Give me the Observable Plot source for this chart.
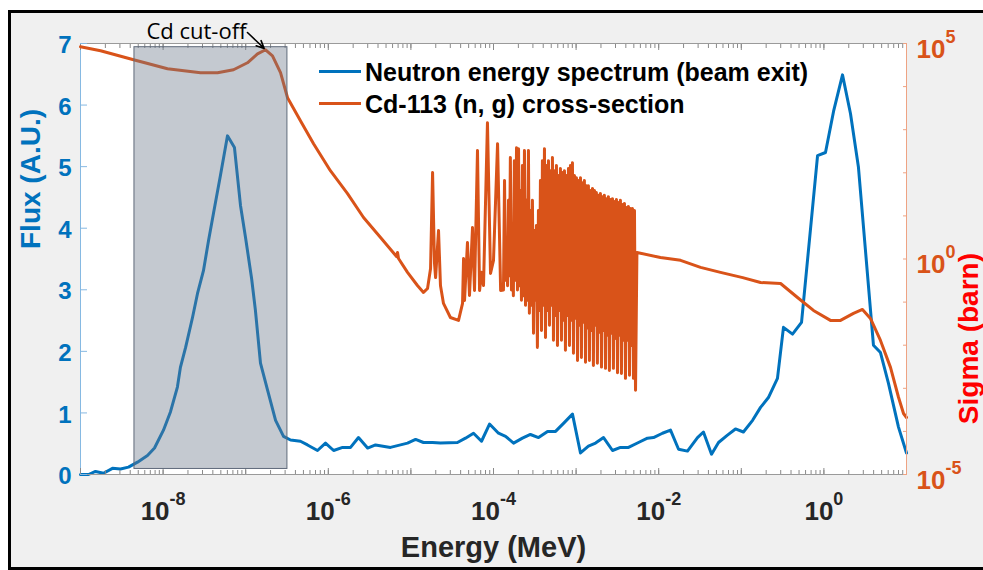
<!DOCTYPE html>
<html>
<head>
<meta charset="utf-8">
<script src="https://cdn.jsdelivr.net/npm/d3@7"></script>
<script src="https://cdn.jsdelivr.net/npm/@observablehq/plot@0.6"></script>
<style>
  html, body { margin: 0; padding: 0; background: #ffffff; }
  #page { position: relative; width: 983px; height: 570px; overflow: hidden;
          font-family: "Liberation Sans", Arial, Helvetica, sans-serif; }
  #panel { position: absolute; left: 8px; top: 10px; width: 990px; height: 560px;
           box-sizing: border-box; border: 3px solid #000; background: #f0f0f0; }
  .layer { position: absolute; left: 0; top: 0; }
  .layer svg { overflow: visible; }
  .key-line { position: absolute; height: 3px; width: 42px; left: 319px; }
  .key-text { position: absolute; left: 365px; font-size: 25px; font-weight: bold;
              line-height: 30px; white-space: nowrap; color: #000; }
</style>
</head>
<body>
<div id="page">
  <div id="panel"></div>
  <div class="layer" id="flux-layer"></div>
  <div class="layer" id="xs-layer"></div>
  <div class="layer" id="shade-layer"></div>
  <div class="layer" id="note-layer"></div>
  <div class="key-line" style="top:70.2px;background:#0072BD"></div>
  <div class="key-text" style="top:57px">Neutron energy spectrum (beam exit)</div>
  <div class="key-line" style="top:101.8px;background:#D95319"></div>
  <div class="key-text" style="top:88.6px">Cd-113 (n, g) cross-section</div>
</div>
<script>
// Neutron flux at the beam exit (MeV, arbitrary units)
const fluxEnergy = [
  1.0e-9, 1.25e-9, 1.52e-9, 1.9e-9, 2.44e-9, 3.05e-9, 3.81e-9, 4.9e-9, 6.47e-9, 7.87e-9,
  1.01e-8, 1.23e-8, 1.49e-8, 1.62e-8, 1.87e-8, 2.27e-8, 2.61e-8, 3.08e-8, 3.55e-8, 4.07e-8,
  4.95e-8, 6.02e-8, 7.31e-8, 8.65e-8, 9.95e-8, 1.18e-7, 1.31e-7, 1.51e-7, 1.84e-7, 2.3e-7,
  2.87e-7, 3.49e-7, 4.6e-7, 5.6e-7, 7.4e-7, 9.25e-7, 1.16e-6, 1.49e-6, 1.86e-6, 2.32e-6,
  2.99e-6, 3.73e-6, 5.66e-6, 9.1e-6, 1.14e-5, 1.42e-5, 1.83e-5, 2.28e-5, 3.66e-5, 4.58e-5,
  5.73e-5, 7.16e-5, 8.95e-5, 1.15e-4, 1.4e-4, 1.75e-4, 2.24e-4, 2.8e-4, 3.51e-4, 4.51e-4,
  5.64e-4, 7.04e-4, 9.04e-4, 1.13e-3, 1.41e-3, 1.72e-3, 2.15e-3, 2.76e-3, 3.45e-3, 4.31e-3,
  5.69e-3, 7.31e-3, 8.65e-3, 1.11e-2, 1.39e-2, 1.74e-2, 2.23e-2, 2.95e-2, 3.48e-2, 4.36e-2,
  5.3e-2, 6.8e-2, 8.5e-2, 0.106, 0.137, 0.171, 0.213, 0.274, 0.324, 0.417,
  0.536, 0.838, 1.045, 1.31, 1.68, 2.10, 2.62, 3.98, 4.84, 6.05,
  8.0, 10.0
];
const fluxValue = [
  0.00, 0.00, 0.05, 0.02, 0.10, 0.09, 0.12, 0.20, 0.31, 0.43,
  0.72, 1.02, 1.42, 1.74, 2.06, 2.55, 2.94, 3.31, 3.80, 4.24,
  4.86, 5.50, 5.31, 4.37, 3.85, 3.18, 2.67, 1.81, 1.37, 0.88,
  0.62, 0.56, 0.54, 0.48, 0.39, 0.51, 0.39, 0.44, 0.44, 0.60,
  0.43, 0.48, 0.44, 0.51, 0.57, 0.52, 0.52, 0.51, 0.52, 0.59,
  0.67, 0.54, 0.82, 0.67, 0.62, 0.51, 0.59, 0.65, 0.60, 0.70,
  0.70, 0.83, 0.98, 0.35, 0.46, 0.51, 0.60, 0.39, 0.44, 0.44,
  0.52, 0.59, 0.60, 0.67, 0.72, 0.41, 0.38, 0.60, 0.69, 0.33,
  0.52, 0.64, 0.74, 0.69, 0.88, 1.09, 1.25, 1.56, 2.39, 2.28,
  2.47, 5.18, 5.23, 5.90, 6.49, 5.86, 4.99, 2.10, 1.98, 1.48,
  0.77, 0.35
];

// Cd-113 (n, gamma) capture cross-section (MeV, barn)
const xsEnergy = [
  // 1/v region, thermal cut-off peak and first resonances
  1.0e-9, 1.75e-9, 4.39e-9, 1.13e-8, 2.84e-8, 4.56e-8, 7.12e-8, 1.05e-7, 1.39e-7, 1.74e-7,
  2.11e-7, 2.64e-7, 3.21e-7, 4.60e-7, 6.63e-7, 1.06e-6, 1.71e-6, 2.67e-6, 4.29e-6, 6.70e-6,
  6.89e-6, 7.08e-6, 9.10e-6, 1.20e-5, 1.42e-5, 1.59e-5, 1.73e-5, 1.83e-5, 1.93e-5, 1.99e-5,
  2.16e-5, 2.28e-5, 2.48e-5, 3.01e-5, 3.77e-5, 4.22e-5, 4.34e-5, 4.46e-5, 4.84e-5, 5.12e-5,
  5.57e-5, 5.89e-5, 6.40e-5, 6.78e-5, 7.16e-5, 7.57e-5, 8.45e-5, 9.20e-5, 1.00e-4, 1.12e-4,
  1.22e-4,
  // resolved resonance region
  1.32e-4, 1.36e-4, 1.40e-4, 1.44e-4, 1.48e-4, 1.52e-4, 1.56e-4, 1.60e-4, 1.65e-4, 1.70e-4,
  1.74e-4, 1.79e-4, 1.84e-4, 1.90e-4, 1.95e-4, 2.01e-4, 2.06e-4, 2.12e-4, 2.18e-4, 2.24e-4,
  2.31e-4, 2.37e-4, 2.44e-4, 2.51e-4, 2.58e-4, 2.65e-4, 2.72e-4, 2.80e-4, 2.88e-4, 2.96e-4,
  3.05e-4, 3.13e-4, 3.22e-4, 3.31e-4, 3.40e-4, 3.50e-4, 3.60e-4, 3.70e-4, 3.81e-4, 3.91e-4,
  4.02e-4, 4.14e-4, 4.26e-4, 4.38e-4, 4.50e-4, 4.63e-4, 4.76e-4, 4.89e-4, 5.03e-4, 5.17e-4,
  5.32e-4, 5.47e-4, 5.62e-4, 5.78e-4, 5.95e-4, 6.11e-4, 6.29e-4, 6.46e-4, 6.65e-4, 6.84e-4,
  7.03e-4, 7.23e-4, 7.43e-4, 7.64e-4, 7.86e-4, 8.08e-4, 8.31e-4, 8.54e-4, 8.79e-4, 9.03e-4,
  9.29e-4, 9.55e-4, 9.82e-4, 1.01e-3, 1.04e-3, 1.07e-3, 1.10e-3, 1.13e-3, 1.16e-3, 1.19e-3,
  1.23e-3, 1.26e-3, 1.30e-3, 1.33e-3, 1.37e-3, 1.41e-3, 1.45e-3, 1.49e-3, 1.53e-3, 1.58e-3,
  1.62e-3, 1.67e-3, 1.72e-3, 1.76e-3, 1.81e-3, 1.87e-3, 1.92e-3, 1.97e-3, 2.03e-3, 2.09e-3,
  2.14e-3, 2.20e-3, 2.27e-3, 2.33e-3, 2.40e-3, 2.46e-3, 2.53e-3, 2.61e-3, 2.68e-3, 2.76e-3,
  2.83e-3, 2.91e-3, 3.00e-3, 3.08e-3, 3.17e-3, 3.26e-3, 3.35e-3, 3.44e-3, 3.54e-3, 3.64e-3,
  3.74e-3, 3.85e-3, 3.96e-3, 4.07e-3, 4.19e-3, 4.30e-3, 4.43e-3, 4.55e-3, 4.68e-3, 4.81e-3,
  4.95e-3, 5.09e-3, 5.24e-3, 5.45e-3,
  // unresolved / fast region
  1.05e-2, 1.84e-2, 3.21e-2, 5.60e-2, 0.104, 0.171, 0.299, 0.479, 0.748, 1.20,
  1.59, 2.28, 2.93, 3.66, 4.84, 6.40, 8.0, 9.2, 10.0
];
const xsSigma = [
  8.4e4, 6.8e4, 4.19e4, 2.59e4, 2.1e4, 2.1e4, 2.46e4, 3.57e4, 5.77e4, 7.15e4,
  5.19e4, 2.1e4, 5.52e3, 1.62e3, 474, 112, 33, 9.2, 3.15, 1.14,
  1.42, 1.03, 0.49, 0.243, 0.168, 0.207, 0.6, 101, 0.8, 0.37,
  4.57, 0.243, 0.093, 0.044, 0.0376, 0.093, 1.03, 0.109, 2.42, 0.143,
  5.37, 0.186, 327, 0.186, 0.49, 0.243, 1456, 0.46, 0.93, 474,
  0.186,
  0.19, 66, 0.32, 2.7, 0.24, 23, 0.41, 225, 0.19, 4.6,
  0.14, 191, 0.32, 383, 0.19, 363, 0.24, 39, 0.11, 147,
  0.14, 327, 0.084, 23, 0.11, 327, 0.055, 13.3, 0.084, 23,
  0.019, 4.6, 0.11, 6.0, 0.0089, 13.3, 0.064, 66, 0.022, 191,
  0.084, 363, 0.015, 147, 0.064, 191, 0.029, 112, 0.084, 225,
  0.013, 112, 0.049, 147, 0.0099, 86, 0.064, 125, 0.013, 101,
  0.038, 112, 0.0076, 86, 0.049, 125, 0.0099, 147, 0.038, 172,
  0.0065, 86, 0.042, 77, 0.0044, 66, 0.029, 77, 0.0052, 59,
  0.034, 66, 0.0040, 50, 0.025, 50, 0.0044, 39, 0.022, 43,
  0.0034, 39, 0.029, 35, 0.0038, 30, 0.020, 33, 0.0031, 28,
  0.022, 30, 0.0029, 25, 0.017, 28, 0.0026, 24, 0.019, 25,
  0.0029, 21.5, 0.0144, 24, 0.0023, 20.4, 0.017, 23, 0.0022, 18.3,
  0.013, 19.3, 0.0017, 15.6, 0.013, 16.5, 0.0020, 14.8, 0.0099, 14.8,
  0.0017, 13.3, 0.0009, 1.42,
  1.08, 0.93, 0.64, 0.49, 0.37, 0.285, 0.27, 0.128, 0.064, 0.0376,
  0.0376, 0.0546, 0.0676, 0.0418, 0.0129, 0.00306, 6.2e-4, 2.6e-4, 2.1e-4
];

// Axis ticks
const energyDecades = [1e-9, 1e-8, 1e-7, 1e-6, 1e-5, 1e-4, 1e-3, 1e-2, 1e-1, 1, 1e1];
const energyTickLabels = [1e-8, 1e-6, 1e-4, 1e-2, 1];
const fluxTicks = [0, 1, 2, 3, 4, 5, 6, 7];
const sigmaDecades = [1e-5, 1e-4, 1e-3, 1e-2, 1e-1, 1, 1e1, 1e2, 1e3, 1e4, 1e5];
const sigmaTickLabels = [1e-5, 1, 1e5];

// Shaded Cd cut-off band and its label anchor
const shadeEnergy = [4.5e-9, 3.2e-7];
const shadeFlux = [0.09, 6.94];
const cutoffLabelEnergy = [1.05e-7];
const cutoffLabelSigma = [1.8e5];

const BLUE = "#0072BD", ORANGE = "#D95319";
const FONT = "'Liberation Sans', Arial, Helvetica, sans-serif";
const SVGNS = "http://www.w3.org/2000/svg";

const fluxData = fluxEnergy.map((E, i) => ({E, flux: fluxValue[i]}));
const xsData = xsEnergy.map((E, i) => ({E, sigma: xsSigma[i]}));

const frameOpts = {
  width: 983, height: 570,
  marginLeft: 80, marginRight: 77, marginTop: 43, marginBottom: 96,
  style: {background: "transparent", overflow: "visible", fontFamily: FONT}
};
const xLog = {type: "log", domain: [1e-9, 1e1]};
const powerOfTen = d => `10^${Math.round(Math.log10(d))}`;
const blank = () => "";

// Turn "10^k" tick labels into a base with a raised exponent
function raiseExponents(svg) {
  svg.querySelectorAll('g[aria-label$="tick label"] text').forEach(t => {
    const m = /^10\^(-?\d+)$/.exec(t.textContent);
    if (!m) return;
    t.textContent = "10";
    const sup = document.createElementNS(SVGNS, "tspan");
    sup.setAttribute("dy", "-15");
    sup.setAttribute("font-size", "18");
    sup.textContent = m[1];
    t.appendChild(sup);
  });
}

// Left axis: flux spectrum
const fluxChart = Plot.plot({
  ...frameOpts,
  x: xLog,
  y: {domain: [0, 7]},
  marks: [
    Plot.frame({fill: "white", stroke: "none"}),
    Plot.line(fluxData, {x: "E", y: "flux", stroke: BLUE, strokeWidth: 3}),
    Plot.ruleY([0], {stroke: "#9a9a9a"}),
    Plot.ruleY([7], {stroke: "#9a9a9a"}),
    Plot.ruleX([1e-9], {stroke: "#86b9e2"}),
    Plot.axisX({anchor: "bottom", ticks: 20, tickSize: -4, tickFormat: blank, stroke: "#8a8a8a", fill: "none", label: null}),
    Plot.axisX({anchor: "bottom", ticks: energyDecades, tickSize: -6, tickFormat: blank, stroke: "#8a8a8a", fill: "none", label: null}),
    Plot.axisX({anchor: "top", ticks: 20, tickSize: -4, tickFormat: blank, stroke: "#8a8a8a", fill: "none", label: null}),
    Plot.axisX({anchor: "top", ticks: energyDecades, tickSize: -6, tickFormat: blank, stroke: "#8a8a8a", fill: "none", label: null}),
    Plot.axisX({anchor: "bottom", ticks: energyTickLabels, tickSize: 0, tickPadding: 27,
      tickFormat: powerOfTen, fontSize: 26, fontWeight: "bold", fill: "#262626", label: null}),
    Plot.axisY({anchor: "left", ticks: fluxTicks, tickSize: -7, tickFormat: blank, stroke: "#86b9e2", fill: "none", label: null}),
    Plot.axisY({anchor: "left", ticks: fluxTicks, tickSize: 0, tickPadding: 9, dy: 2,
      tickFormat: d => String(d), fontSize: 24, fontWeight: "bold", fill: BLUE, label: null}),
    Plot.text(["Flux (A.U.)"], {frameAnchor: "left", text: d => d, rotate: -90, dx: -49, dy: -10,
      fontSize: 28, fontWeight: "bold", fill: BLUE}),
    Plot.text(["Energy (MeV)"], {frameAnchor: "bottom", text: d => d, dy: 82,
      fontSize: 29, fontWeight: "bold", fill: "#262626"})
  ]
});
raiseExponents(fluxChart);
document.getElementById("flux-layer").appendChild(fluxChart);

// Right axis: capture cross-section
const xsChart = Plot.plot({
  ...frameOpts,
  x: {...xLog, axis: null},
  y: {type: "log", domain: [1e-5, 1e5]},
  marks: [
    Plot.line(xsData, {x: "E", y: "sigma", stroke: ORANGE, strokeWidth: 3}),
    Plot.ruleX([1e1], {stroke: "#eea383"}),
    Plot.axisY({anchor: "right", ticks: sigmaDecades, tickSize: -4, tickFormat: blank, stroke: "#eea383", fill: "none", label: null}),
    Plot.axisY({anchor: "right", ticks: sigmaTickLabels, tickSize: 0, tickPadding: 10, dy: 6,
      tickFormat: powerOfTen, fontSize: 26, fontWeight: "bold", fill: ORANGE, label: null}),
    Plot.text(["Sigma (barn)"], {frameAnchor: "right", text: d => d, rotate: -90, dx: 63, dy: -6,
      fontSize: 28, fontWeight: "bold", fill: "#ff0000"})
  ]
});
raiseExponents(xsChart);
document.getElementById("xs-layer").appendChild(xsChart);

// Translucent band over the thermal region
const shadeChart = Plot.plot({
  ...frameOpts,
  x: {...xLog, axis: null},
  y: {domain: [0, 7], axis: null},
  marks: [
    Plot.rect([{E1: shadeEnergy[0], E2: shadeEnergy[1], f1: shadeFlux[0], f2: shadeFlux[1]}],
      {x1: "E1", x2: "E2", y1: "f1", y2: "f2", fill: "#6c788a", fillOpacity: 0.4,
       stroke: "#5f6a7a", strokeWidth: 1})
  ]
});
document.getElementById("shade-layer").appendChild(shadeChart);

// Arrow to the cross-section peak at the cadmium cut-off
const peak = d3.greatest(xsData.filter(d => d.E > 1e-7 && d.E < 1e-6), d => d.sigma);
const note = [{E1: cutoffLabelEnergy[0], s1: cutoffLabelSigma[0], E2: peak.E, s2: peak.sigma}];
const noteChart = Plot.plot({
  ...frameOpts,
  x: {...xLog, axis: null},
  y: {type: "log", domain: [1e-5, 1e5], axis: null},
  marks: [
    Plot.arrow(note, {x1: "E1", y1: "s1", x2: "E2", y2: "s2", stroke: "#000", strokeWidth: 1.6,
      headLength: 8, headAngle: 50, insetEnd: 2}),
    Plot.text(note, {x: "E1", y: "s1", text: () => "Cd cut-off", textAnchor: "end", dx: -1, dy: -1,
      fontSize: 22, fontFamily: "'Open Sans', sans-serif", fill: "#000"})
  ]
});
document.getElementById("note-layer").appendChild(noteChart);
</script>
</body>
</html>
